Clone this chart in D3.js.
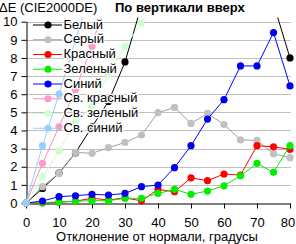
<!DOCTYPE html>
<html><head><meta charset="utf-8">
<script src="https://cdn.jsdelivr.net/npm/d3@7"></script>
<style>
html,body{margin:0;padding:0;background:#fff;}
svg{display:block;font-family:"Liberation Sans",Arial,sans-serif;}
</style></head><body>
<svg id="c" width="296" height="244"></svg>
<script>
// ---- data ----
const angles = [0,5,10,15,20,25,30,35,40,45,50,55,60,65,70,75,80];
const xTicks = [0,10,20,30,40,50,60,70,80];
const yTicks = [0,1,2,3,4,5,6,7,8,9,10];
const names = ["Белый","Серый","Красный","Зеленый","Синий","Св. красный","Св. зеленый","Св. синий"];
const white      = [0,0.8,1.65,2.77,4.2,5.6,7.78,10.9,13,15,16,17,16,15,13,11.0,8.0];
const grey       = [0,0.9,1.63,2.79,2.74,3.05,3.34,3.75,4.98,5.27,4.39,4.94,4.33,3.48,3.45,2.72,2.5];
const red        = [0,0.0,0.04,0.1,0.26,0.17,0.28,0.12,0.75,0.62,1.39,1.23,1.6,1.54,3.16,3.1,2.96];
const green      = [0,0.02,0.06,0.09,0.13,0.13,0.26,0.26,0.53,0.75,0.48,0.66,0.95,1.5,2.19,1.69,3.16];
const blue       = [0,0.11,0.35,0.4,0.48,0.44,0.53,0.9,0.99,1.95,3.16,4.63,5.7,7.56,7.56,9.4,6.46];
const lightRed   = [0,2.19,4.2,6.26,8.65,11.8,14.5,16.8,18.6,20.1,21.3,22.2,22.9,23.4,23.8,24.1,24.3];
const lightGreen = [0,1.45,2.88,4.42,5.34,7.1,8.65,9.93,11.4,12.8,14.1,15.0,16.2,17.0,17.9,18.5,19.2];
const lightBlue  = [0,3.16,6.0,9.0,12.0,14.8,17.3,19.5,21.4,23.0,24.3,25.4,26.2,26.9,27.4,27.8,28.1];
const lineColors   = ["#000000","#a0a0a0","#ff0000","#00ee00","#0000ff","#ff88bb","#c8ffc8","#99ccff"];
const markerColors = ["#000000","#c0c0c0","#ff0000","#00ee00","#0000ee","#ff99cc","#ccffcc","#99ccff"];
const seriesData = [white,grey,red,green,blue,lightRed,lightGreen,lightBlue];

// ---- chart ----
const svg = d3.select("#c");
const x = d3.scaleLinear().domain([0,80]).range([26,290]);
const y = d3.scaleLinear().domain([0,10]).range([203,21.7]);
const FS = "13px";

// gridlines
svg.append("g").selectAll("line").data(yTicks.filter(d=>d>0)).join("line")
  .attr("x1",x(0)).attr("x2",x(80)+1)
  .attr("y1",d=>Math.round(y(d))+0.5).attr("y2",d=>Math.round(y(d))+0.5)
  .attr("stroke","#c0c0c0").attr("stroke-width",1);

// axes
const gy = svg.append("g").attr("transform","translate(26.5,0)")
  .call(d3.axisLeft(y).tickValues(yTicks).tickSize(5).tickSizeOuter(0).tickPadding(4).tickFormat(d3.format("d")));
const gx = svg.append("g").attr("transform","translate(0,203.5)")
  .call(d3.axisBottom(x).tickValues(xTicks).tickSize(5).tickSizeOuter(0).tickPadding(9).tickFormat(d3.format("d")));
[gy,gx].forEach(g=>{
  g.selectAll("text").attr("font-size",FS).attr("font-family","Liberation Sans, Arial, sans-serif").attr("fill","#000");
  g.selectAll("line,path").attr("stroke","#000");
});
gx.selectAll(".tick text").filter(d=>d===80).attr("dx",-2.5);

// clip
svg.append("defs").append("clipPath").attr("id","clip")
  .append("rect").attr("x",0).attr("y",17.5).attr("width",296).attr("height",230);

const plot = svg.append("g").attr("clip-path","url(#clip)");
const line = d3.line().x((d,i)=>x(angles[i])).y(d=>y(d));
seriesData.forEach((s,k)=>{
  const g = plot.append("g");
  g.append("path").datum(s).attr("d",line).attr("fill","none")
    .attr("stroke",lineColors[k]).attr("stroke-width",1);
  g.selectAll("circle").data(s).join("circle")
    .attr("cx",(d,i)=>x(angles[i])).attr("cy",d=>y(d)).attr("r",3.6)
    .attr("fill",markerColors[k]);
});

// legend
const leg = svg.append("g");
names.forEach((n,k)=>{
  const ry = 25 + k*14.75;
  leg.append("line").attr("x1",33).attr("x2",62).attr("y1",ry).attr("y2",ry)
    .attr("stroke",lineColors[k]).attr("stroke-width",1);
  leg.append("circle").attr("cx",48).attr("cy",ry).attr("r",3.6).attr("fill",markerColors[k]);
  leg.append("text").attr("x",63.5).attr("y",ry+3.6).attr("font-size",FS)
    .attr("fill","#000").attr("stroke","#fff").attr("stroke-width",2.5)
    .attr("paint-order","stroke").attr("stroke-linejoin","round").text(n);
});

// titles
svg.append("text").attr("x",-1).attr("y",11.5).attr("font-size",FS).attr("fill","#000").text("ΔE (CIE2000DE)");
svg.append("text").attr("x",115).attr("y",11.5).attr("font-size",FS).attr("font-weight","bold").attr("fill","#000").text("По вертикали вверх");
svg.append("text").attr("x",157).attr("y",241).attr("font-size",FS).attr("text-anchor","middle").attr("fill","#000").text("Отклонение от нормали, градусы");
</script>
</body></html>
